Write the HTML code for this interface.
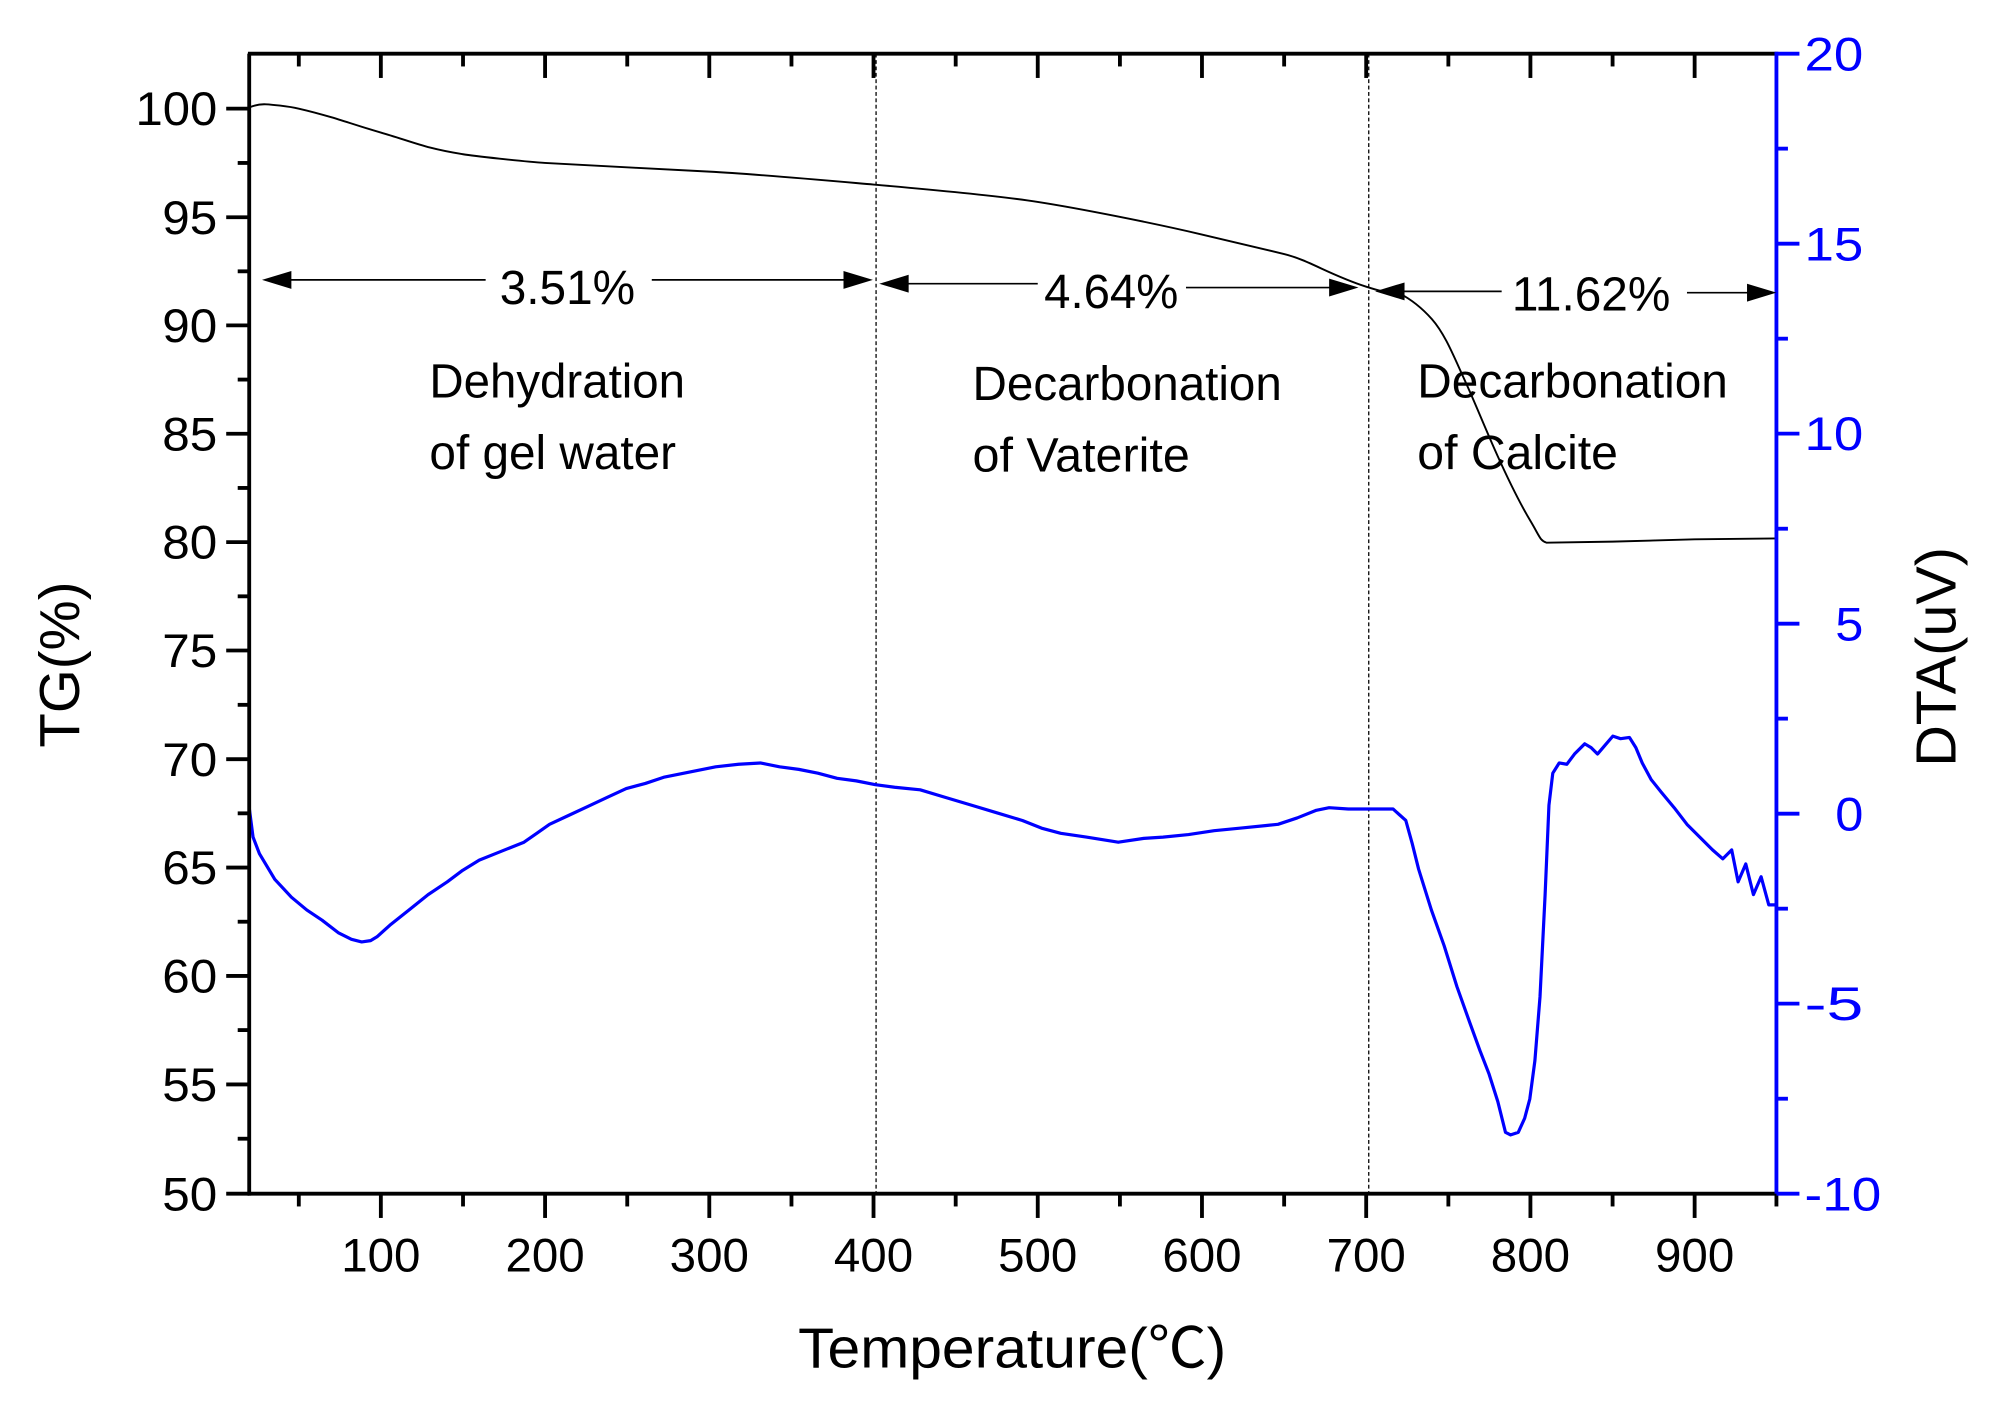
<!DOCTYPE html>
<html><head><meta charset="utf-8"><style>
html,body{margin:0;padding:0;background:#fff;}
svg{display:block;}
text{font-family:"Liberation Sans","Noto Sans CJK SC",sans-serif;}
</style></head><body>
<svg width="2002" height="1408" viewBox="0 0 1566.5 1101.7" preserveAspectRatio="none" xmlns="http://www.w3.org/2000/svg">
<rect width="1566.5" height="1101.7" fill="#fff"/>
<line x1="685.5" y1="42" x2="685.5" y2="934" stroke="#000" stroke-width="1" stroke-dasharray="3,2"/>
<line x1="1071" y1="42" x2="1071" y2="934" stroke="#000" stroke-width="1" stroke-dasharray="3,2"/>
<path d="M195.2,84 C200,82 204,81.4 208,81.6 S225,83 233.8,85 S250,89 259.5,91.8 S285,100 298,103.7 S325,112.5 336.6,115.5 S355,119.5 362.3,120.7 S410,126.5 426.5,127.5 S520,132.5 555,134.3 S650,141.5 683.5,144.4 S780,153 812,158 S900,174 940.5,183.5 S985,194 1004.8,198.8 S1040,215 1069,224.3 S1088,226 1094.7,229.4 S1110,238 1120.4,249.7 S1138,280 1146,297.3 S1162,335 1171.8,356.7 S1190,395 1197.5,407.6 S1205,423 1210,424.6 L1261.8,423.8 L1326,422 L1390,421.3" fill="none" stroke="#000" stroke-width="1.5"/>
<polyline fill="none" stroke="#0000ff" stroke-width="2.5" stroke-linejoin="round" points="195,632 198,655 203,668 215,688 228,702 240,712 252,720 265,730 275,735 283,737 290,736 295,733 305,724 320,712 335,700 350,690 362,681 375,673 390,667 410,659 420,652 430,645 445,638 460,631 475,624 490,617 505,613 520,608 540,604 560,600 578,598 595,597 610,600 625,602 640,605 655,609 670,611 685,614 700,616 720,618 740,624 760,630 780,636 800,642 815,648 830,652 850,655 875,659 895,656 910,655 930,653 950,650 970,648 990,646 1000,645 1015,640 1030,634 1040,632 1055,633 1075,633 1090,633 1100,642 1105,660 1110,680 1120,712 1130,740 1140,772 1150,800 1158,822 1165,840 1172,862 1178,886 1182,888 1188,886 1193,875 1197,860 1201,830 1205,780 1209,700 1212,630 1215,605 1220,597 1226,598 1232,590 1240,582 1245,585 1250,590 1256,583 1262,576 1268,578 1275,577 1280,585 1285,597 1292,610 1300,620 1310,632 1320,645 1330,655 1340,665 1348,672 1355,665 1360,690 1366,676 1372,700 1378,686 1384,708 1390,708"/>
<g stroke="#000" stroke-width="3">
<line x1="194" y1="42" x2="1390" y2="42"/>
<line x1="194" y1="934" x2="1390" y2="934"/>
<line x1="195" y1="42" x2="195" y2="935.5"/>
</g>
<line x1="1390" y1="40.5" x2="1390" y2="935.5" stroke="#0000ff" stroke-width="3"/>
<g stroke="#000" stroke-width="3">
<line x1="177" y1="85" x2="195" y2="85"/><line x1="186" y1="127.5" x2="195" y2="127.5"/>
<line x1="177" y1="170" x2="195" y2="170"/><line x1="186" y1="212.3" x2="195" y2="212.3"/>
<line x1="177" y1="254.6" x2="195" y2="254.6"/><line x1="186" y1="297" x2="195" y2="297"/>
<line x1="177" y1="339.4" x2="195" y2="339.4"/><line x1="186" y1="381.8" x2="195" y2="381.8"/>
<line x1="177" y1="424.2" x2="195" y2="424.2"/><line x1="186" y1="466.6" x2="195" y2="466.6"/>
<line x1="177" y1="509" x2="195" y2="509"/><line x1="186" y1="551.5" x2="195" y2="551.5"/>
<line x1="177" y1="594" x2="195" y2="594"/><line x1="186" y1="636.4" x2="195" y2="636.4"/>
<line x1="177" y1="678.8" x2="195" y2="678.8"/><line x1="186" y1="721.2" x2="195" y2="721.2"/>
<line x1="177" y1="763.6" x2="195" y2="763.6"/><line x1="186" y1="806" x2="195" y2="806"/>
<line x1="177" y1="848.5" x2="195" y2="848.5"/><line x1="186" y1="891" x2="195" y2="891"/>
<line x1="177" y1="934" x2="195" y2="934"/>
<line x1="233.8" y1="42" x2="233.8" y2="52"/><line x1="298" y1="42" x2="298" y2="61"/>
<line x1="362.3" y1="42" x2="362.3" y2="52"/><line x1="426.5" y1="42" x2="426.5" y2="61"/>
<line x1="490.8" y1="42" x2="490.8" y2="52"/><line x1="555" y1="42" x2="555" y2="61"/>
<line x1="619.3" y1="42" x2="619.3" y2="52"/><line x1="683.5" y1="42" x2="683.5" y2="61"/>
<line x1="747.8" y1="42" x2="747.8" y2="52"/><line x1="812" y1="42" x2="812" y2="61"/>
<line x1="876.3" y1="42" x2="876.3" y2="52"/><line x1="940.5" y1="42" x2="940.5" y2="61"/>
<line x1="1004.8" y1="42" x2="1004.8" y2="52"/><line x1="1069" y1="42" x2="1069" y2="61"/>
<line x1="1133.3" y1="42" x2="1133.3" y2="52"/><line x1="1197.5" y1="42" x2="1197.5" y2="61"/>
<line x1="1261.8" y1="42" x2="1261.8" y2="52"/><line x1="1326" y1="42" x2="1326" y2="61"/>
<line x1="233.8" y1="934" x2="233.8" y2="944"/><line x1="298" y1="934" x2="298" y2="953"/>
<line x1="362.3" y1="934" x2="362.3" y2="944"/><line x1="426.5" y1="934" x2="426.5" y2="953"/>
<line x1="490.8" y1="934" x2="490.8" y2="944"/><line x1="555" y1="934" x2="555" y2="953"/>
<line x1="619.3" y1="934" x2="619.3" y2="944"/><line x1="683.5" y1="934" x2="683.5" y2="953"/>
<line x1="747.8" y1="934" x2="747.8" y2="944"/><line x1="812" y1="934" x2="812" y2="953"/>
<line x1="876.3" y1="934" x2="876.3" y2="944"/><line x1="940.5" y1="934" x2="940.5" y2="953"/>
<line x1="1004.8" y1="934" x2="1004.8" y2="944"/><line x1="1069" y1="934" x2="1069" y2="953"/>
<line x1="1133.3" y1="934" x2="1133.3" y2="944"/><line x1="1197.5" y1="934" x2="1197.5" y2="953"/>
<line x1="1261.8" y1="934" x2="1261.8" y2="944"/><line x1="1326" y1="934" x2="1326" y2="953"/>
<line x1="1390" y1="934" x2="1390" y2="944"/>
</g>
<g stroke="#0000ff" stroke-width="3">
<line x1="1390" y1="42" x2="1408" y2="42"/><line x1="1390" y1="116.3" x2="1399" y2="116.3"/>
<line x1="1390" y1="190.7" x2="1408" y2="190.7"/><line x1="1390" y1="265" x2="1399" y2="265"/>
<line x1="1390" y1="339.3" x2="1408" y2="339.3"/><line x1="1390" y1="413.7" x2="1399" y2="413.7"/>
<line x1="1390" y1="488" x2="1408" y2="488"/><line x1="1390" y1="562.3" x2="1399" y2="562.3"/>
<line x1="1390" y1="636.7" x2="1408" y2="636.7"/><line x1="1390" y1="711" x2="1399" y2="711"/>
<line x1="1390" y1="785.3" x2="1408" y2="785.3"/><line x1="1390" y1="859.7" x2="1399" y2="859.7"/>
<line x1="1390" y1="934" x2="1408" y2="934"/>
</g>
<g font-size="37" text-anchor="end" fill="#000" lengthAdjust="spacingAndGlyphs">
<text x="170" y="98" textLength="64" lengthAdjust="spacingAndGlyphs">100</text>
<text x="170" y="183" textLength="43" lengthAdjust="spacingAndGlyphs">95</text>
<text x="170" y="267.6" textLength="43" lengthAdjust="spacingAndGlyphs">90</text>
<text x="170" y="352.4" textLength="43" lengthAdjust="spacingAndGlyphs">85</text>
<text x="170" y="437.2" textLength="43" lengthAdjust="spacingAndGlyphs">80</text>
<text x="170" y="522" textLength="43" lengthAdjust="spacingAndGlyphs">75</text>
<text x="170" y="607" textLength="43" lengthAdjust="spacingAndGlyphs">70</text>
<text x="170" y="691.8" textLength="43" lengthAdjust="spacingAndGlyphs">65</text>
<text x="170" y="776.6" textLength="43" lengthAdjust="spacingAndGlyphs">60</text>
<text x="170" y="861.5" textLength="43" lengthAdjust="spacingAndGlyphs">55</text>
<text x="170" y="947" textLength="43" lengthAdjust="spacingAndGlyphs">50</text>
</g>
<g font-size="37" text-anchor="start" fill="#0000ff">
<text x="1412" y="55" textLength="46" lengthAdjust="spacingAndGlyphs">20</text>
<text x="1412" y="203.7" textLength="46" lengthAdjust="spacingAndGlyphs">15</text>
<text x="1412" y="352.3" textLength="46" lengthAdjust="spacingAndGlyphs">10</text>
<text x="1436" y="501" textLength="22" lengthAdjust="spacingAndGlyphs">5</text>
<text x="1436" y="649.7" textLength="22" lengthAdjust="spacingAndGlyphs">0</text>
<text x="1412" y="798.3" textLength="46" lengthAdjust="spacingAndGlyphs">-5</text>
<text x="1412" y="947" textLength="60" lengthAdjust="spacingAndGlyphs">-10</text>
</g>
<g font-size="37" text-anchor="middle" fill="#000">
<text x="298" y="995" textLength="62" lengthAdjust="spacingAndGlyphs">100</text>
<text x="426.5" y="995" textLength="62" lengthAdjust="spacingAndGlyphs">200</text>
<text x="555" y="995" textLength="62" lengthAdjust="spacingAndGlyphs">300</text>
<text x="683.5" y="995" textLength="62" lengthAdjust="spacingAndGlyphs">400</text>
<text x="812" y="995" textLength="62" lengthAdjust="spacingAndGlyphs">500</text>
<text x="940.5" y="995" textLength="62" lengthAdjust="spacingAndGlyphs">600</text>
<text x="1069" y="995" textLength="62" lengthAdjust="spacingAndGlyphs">700</text>
<text x="1197.5" y="995" textLength="62" lengthAdjust="spacingAndGlyphs">800</text>
<text x="1326" y="995" textLength="62" lengthAdjust="spacingAndGlyphs">900</text>
</g>
<text x="792" y="1070" font-size="44" text-anchor="middle" textLength="335" lengthAdjust="spacingAndGlyphs">Temperature(℃)</text>
<text transform="translate(62,520) rotate(-90)" font-size="44" text-anchor="middle" textLength="130" lengthAdjust="spacingAndGlyphs">TG(%)</text>
<text transform="translate(1530,514) rotate(-90)" font-size="44" text-anchor="middle" textLength="172" lengthAdjust="spacingAndGlyphs">DTA(uV)</text>
<g stroke="#000" stroke-width="1.3">
<line x1="225" y1="219" x2="380" y2="219"/><line x1="510" y1="219" x2="662" y2="219"/>
<line x1="708" y1="222" x2="812" y2="222"/><line x1="928" y1="225" x2="1043" y2="225"/>
<line x1="1098" y1="228" x2="1175" y2="228"/><line x1="1320" y1="229" x2="1370" y2="229"/>
</g>
<g fill="#000">
<polygon points="205,219 228,212 228,226"/>
<polygon points="683,219 660,212 660,226"/>
<polygon points="688,222 711,215 711,229"/>
<polygon points="1063,225 1040,218 1040,232"/>
<polygon points="1076,228 1099,221 1099,235"/>
<polygon points="1390,229 1367,222 1367,236"/>
</g>
<g font-size="38" fill="#000">
<text x="391" y="238" textLength="106" lengthAdjust="spacingAndGlyphs">3.51%</text>
<text x="817" y="241" textLength="105" lengthAdjust="spacingAndGlyphs">4.64%</text>
<text x="1183" y="243" textLength="124" lengthAdjust="spacingAndGlyphs">11.62%</text>
<text x="336" y="311" textLength="200" lengthAdjust="spacingAndGlyphs">Dehydration</text>
<text x="336" y="367" textLength="193" lengthAdjust="spacingAndGlyphs">of gel water</text>
<text x="761" y="313" textLength="242" lengthAdjust="spacingAndGlyphs">Decarbonation</text>
<text x="761" y="369" textLength="170" lengthAdjust="spacingAndGlyphs">of Vaterite</text>
<text x="1109" y="311" textLength="243" lengthAdjust="spacingAndGlyphs">Decarbonation</text>
<text x="1109" y="367" textLength="157" lengthAdjust="spacingAndGlyphs">of Calcite</text>
</g>
</svg>
</body></html>
